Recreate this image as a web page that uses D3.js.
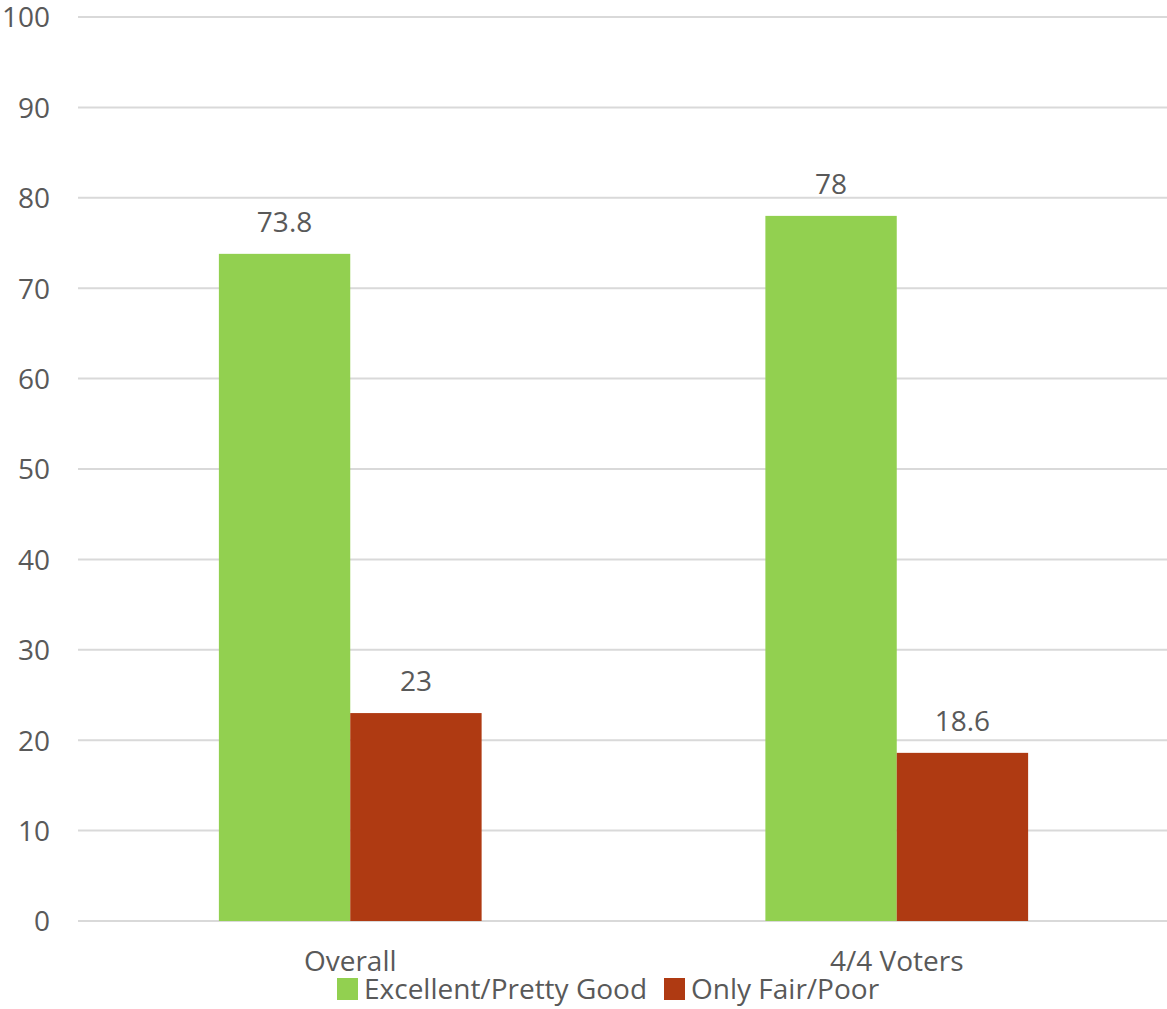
<!DOCTYPE html>
<html><head><meta charset="utf-8">
<script src="https://cdn.jsdelivr.net/npm/d3@7"></script>
<style>body{margin:0;background:#fff}svg{display:block}text{font-family:"Open Sans",sans-serif;fill:#595959}</style>
</head><body>
<script>
const categories = ["Overall", "4/4 Voters"];
const seriesNames = ["Excellent/Pretty Good", "Only Fair/Poor"];
const excellentValues = [73.8, 78];
const fairPoorValues = [23, 18.6];
const yTicks = [0, 10, 20, 30, 40, 50, 60, 70, 80, 90, 100];
const colors = ["#92D050", "#AF3A12"];

const W = 1167, H = 1009;
const FS = 28;
const svg = d3.select("body").append("svg").attr("width", W).attr("height", H);
const plotLeft = 77, plotRight = 1170, gridRight = 1167, plotTop = 17, plotBottom = 921;

const y = d3.scaleLinear().domain([0, 100]).range([plotBottom, plotTop]);
const x0 = d3.scaleBand().domain(categories).range([plotLeft, plotRight]).padding(0);
const x1 = d3.scaleBand().domain(seriesNames).range([0, x0.bandwidth()]).paddingInner(0).paddingOuter(1.08);
const color = d3.scaleOrdinal().domain(seriesNames).range(colors);

// gridlines
svg.append("g").selectAll("line").data(yTicks).join("line")
  .attr("x1", 78).attr("x2", gridRight)
  .attr("y1", d => y(d)).attr("y2", d => y(d))
  .attr("stroke", "#d9d9d9").attr("stroke-width", 2);

// y axis labels
const yAxis = d3.axisLeft(y).tickValues(yTicks).tickSize(0).tickPadding(0);
const gy = svg.append("g").attr("transform", "translate(50,0)").call(yAxis);
gy.select(".domain").remove();
gy.selectAll("text").attr("font-size", FS).attr("font-family", "Open Sans").attr("fill", "#595959").attr("dy", "0.35em");

const data = categories.map((c, i) => ({cat: c, vals: [
  {s: seriesNames[0], v: excellentValues[i]},
  {s: seriesNames[1], v: fairPoorValues[i]}]}));

const groups = svg.append("g").selectAll("g").data(data).join("g")
  .attr("transform", d => `translate(${x0(d.cat)},0)`);
groups.selectAll("rect").data(d => d.vals).join("rect")
  .attr("x", d => x1(d.s)).attr("width", x1.bandwidth())
  .attr("y", d => y(d.v)).attr("height", d => y(0) - y(d.v))
  .attr("fill", d => color(d.s));
groups.selectAll("text.val").data(d => d.vals).join("text").attr("class", "val")
  .attr("x", d => x1(d.s) + x1.bandwidth() / 2)
  .attr("y", d => y(d.v) - 22)
  .attr("text-anchor", "middle").attr("font-size", FS)
  .text(d => d.v);

// x axis labels
const xAxis = d3.axisBottom(x0).tickSize(0).tickPadding(0);
const gx = svg.append("g").attr("transform", `translate(0,${plotBottom})`).call(xAxis);
gx.select(".domain").remove();
gx.selectAll("text").attr("font-size", FS).attr("font-family", "Open Sans").attr("fill", "#595959").attr("dy", "0").attr("y", 50);

// legend
const legend = svg.append("g");
const legendX = [337, 664];
seriesNames.forEach((s, i) => {
  const g = legend.append("g").attr("transform", `translate(${legendX[i]},978)`);
  g.append("rect").attr("width", 21).attr("height", 22).attr("fill", color(s));
  g.append("text").attr("x", 27).attr("y", 21).attr("font-size", FS).text(s);
});
</script>
</body></html>
